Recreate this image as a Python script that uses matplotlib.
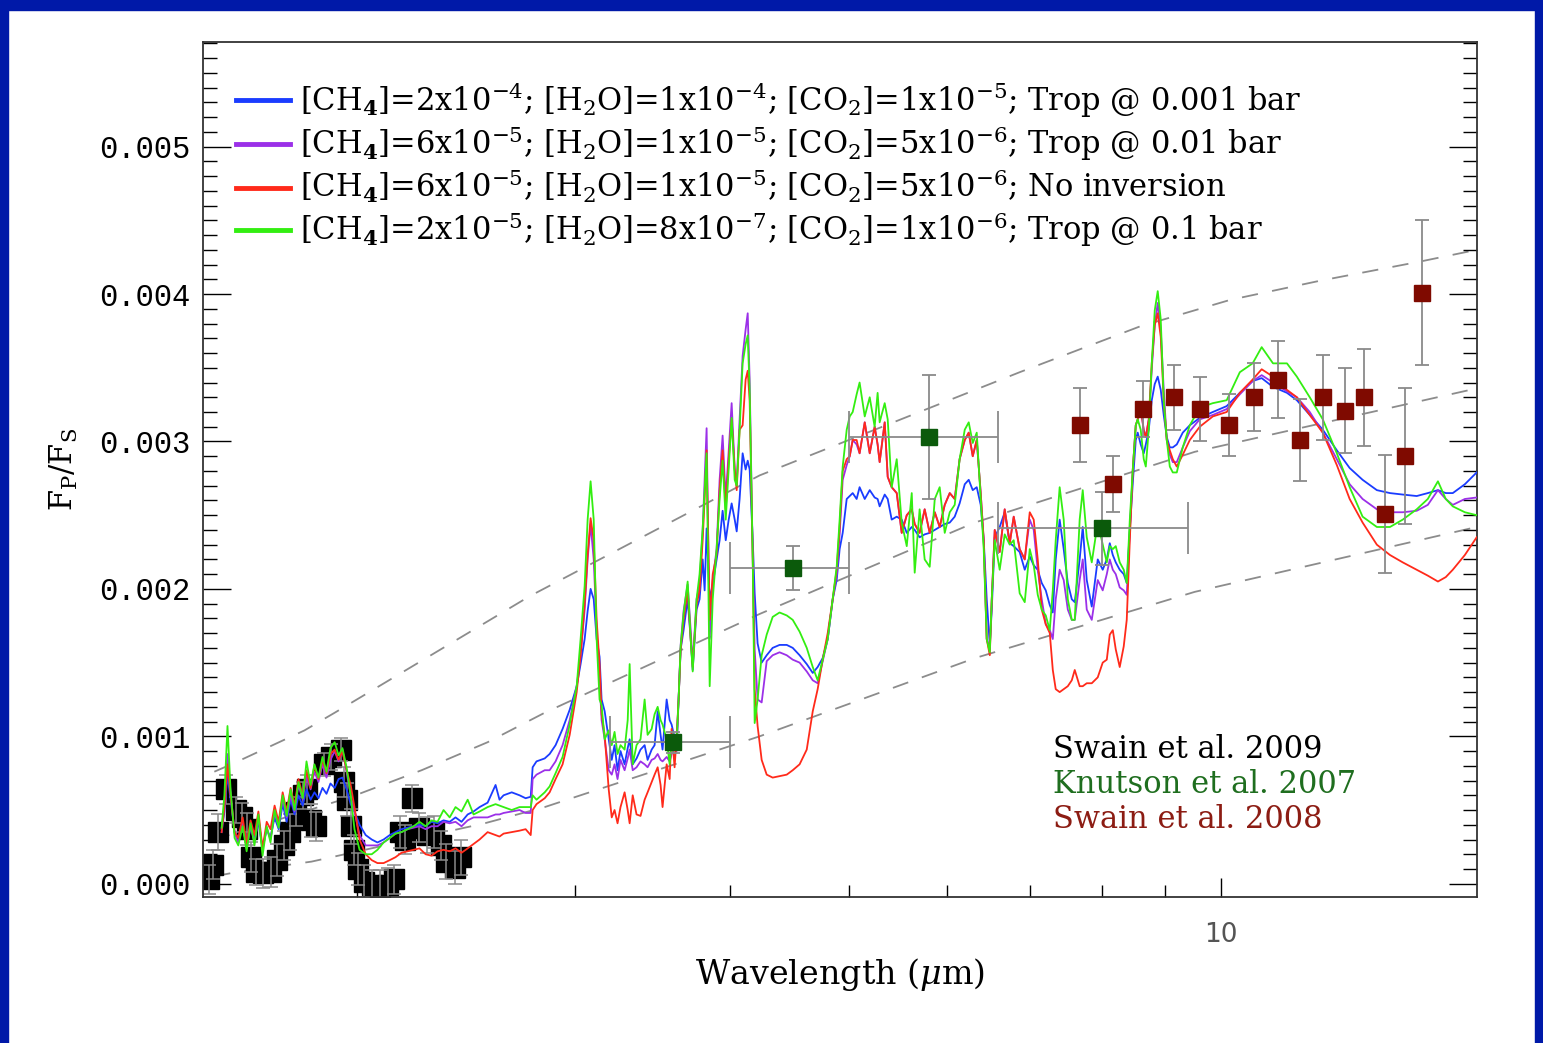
import matplotlib
matplotlib.use("Agg")

import matplotlib.pyplot as plt
from matplotlib.patches import Rectangle
from matplotlib.ticker import FixedLocator, FuncFormatter, NullFormatter
import numpy as np

plt.rcParams['font.family'] = ['DejaVu Serif']
plt.rcParams['mathtext.fontset'] = 'dejavuserif'

FRAME_BLUE = "#0019a8"
C_BLUE = "#1a3cff"
C_VIOLET = "#9b30e8"
C_RED = "#ff2a1a"
C_GREEN = "#33ee11"
C_KNUTSON = "#0b5a0b"
C_SWAIN08 = "#7f0a00"
C_ERR = "#8a8a8a"
SCALE = 1e-3   # flux ratios below are in units of 1e-3

# ---- model spectra (common wavelength grid, micron) ----
wl = [1.553, 1.561, 1.570, 1.579, 1.591, 1.602, 1.615, 1.627, 1.639, 1.651,
      1.663, 1.676, 1.689, 1.701, 1.714, 1.727, 1.740, 1.753, 1.766, 1.779,
      1.792, 1.806, 1.819, 1.833, 1.846, 1.860, 1.874, 1.888, 1.902, 1.917,
      1.931, 1.945, 1.960, 1.975, 1.989, 2.008, 2.031, 2.054, 2.076, 2.100,
      2.124, 2.147, 2.171, 2.196, 2.221, 2.245, 2.271, 2.296, 2.322, 2.348,
      2.375, 2.401, 2.428, 2.456, 2.483, 2.511, 2.549, 2.587, 2.606, 2.626,
      2.666, 2.705, 2.736, 2.762, 2.772, 2.792, 2.835, 2.861, 2.893, 2.931,
      2.970, 3.009, 3.031, 3.054, 3.071, 3.088, 3.106, 3.123, 3.140, 3.152,
      3.170, 3.194, 3.212, 3.229, 3.247, 3.265, 3.290, 3.309, 3.321, 3.340,
      3.364, 3.389, 3.415, 3.434, 3.460, 3.479, 3.499, 3.518, 3.531, 3.558,
      3.578, 3.591, 3.611, 3.625, 3.638, 3.652, 3.672, 3.700, 3.721, 3.735,
      3.762, 3.783, 3.805, 3.819, 3.833, 3.855, 3.877, 3.905, 3.927, 3.949,
      3.972, 3.994, 4.016, 4.039, 4.054, 4.076, 4.099, 4.122, 4.138, 4.153,
      4.177, 4.192, 4.215, 4.247, 4.287, 4.335, 4.391, 4.450, 4.500, 4.558,
      4.619, 4.671, 4.714, 4.758, 4.803, 4.848, 4.884, 4.911, 4.939, 4.976,
      5.004, 5.032, 5.069, 5.097, 5.146, 5.194, 5.242, 5.271, 5.291, 5.341,
      5.371, 5.411, 5.462, 5.513, 5.565, 5.617, 5.648, 5.700, 5.754, 5.808,
      5.863, 5.917, 5.973, 6.029, 6.085, 6.141, 6.200, 6.246, 6.293, 6.340,
      6.387, 6.423, 6.459, 6.496, 6.520, 6.556, 6.617, 6.679, 6.742, 6.792,
      6.868, 6.933, 6.998, 7.050, 7.103, 7.156, 7.210, 7.264, 7.305, 7.345,
      7.399, 7.455, 7.512, 7.568, 7.610, 7.680, 7.724, 7.782, 7.855, 7.943,
      8.017, 8.078, 8.123, 8.169, 8.214, 8.275, 8.337, 8.384, 8.432, 8.479,
      8.526, 8.557, 8.605, 8.654, 8.687, 8.735, 8.784, 8.833, 8.882, 8.932,
      8.982, 9.033, 9.084, 9.135, 9.203, 9.306, 9.429, 9.605, 9.842, 10.10,
      10.35, 10.60, 10.78, 11.01, 11.30, 11.51, 11.79, 12.08, 12.40, 12.70,
      13.01, 13.36, 13.69, 14.02, 14.39, 14.69, 14.97, 15.19, 15.39, 15.74,
      16.09]

trop_0001 = [0.35, 0.49, 0.74, 0.57, 0.35, 0.31, 0.39, 0.26, 0.38, 0.30,
             0.42, 0.24, 0.37, 0.31, 0.45, 0.37, 0.54, 0.42, 0.57, 0.47,
             0.60, 0.53, 0.64, 0.57, 0.62, 0.58, 0.65, 0.61, 0.68, 0.65,
             0.71, 0.72, 0.64, 0.54, 0.49, 0.40, 0.33, 0.30, 0.28, 0.30,
             0.33, 0.35, 0.37, 0.38, 0.39, 0.40, 0.39, 0.42, 0.41, 0.43,
             0.42, 0.45, 0.42, 0.47, 0.49, 0.52, 0.55, 0.67, 0.57, 0.60,
             0.62, 0.60, 0.58, 0.59, 0.79, 0.83, 0.85, 0.88, 0.94, 1.05,
             1.18, 1.34, 1.49, 1.66, 1.85, 2.00, 1.93, 1.66, 1.54, 1.25,
             1.17, 0.98, 0.84, 0.94, 0.77, 0.90, 0.81, 0.92, 0.98, 0.81,
             0.85, 0.91, 0.94, 0.84, 0.91, 0.94, 1.17, 1.01, 0.91, 1.25,
             1.11, 1.08, 0.99, 0.96, 1.25, 1.59, 1.72, 1.93, 1.66, 1.45,
             1.86, 1.93, 2.20, 1.99, 2.41, 1.93, 2.03, 2.20, 2.33, 2.53,
             2.33, 2.47, 2.58, 2.47, 2.39, 2.61, 2.92, 2.81, 2.87, 2.81,
             2.33, 1.97, 1.63, 1.50, 1.55, 1.60, 1.62, 1.62, 1.60, 1.55,
             1.49, 1.43, 1.47, 1.53, 1.66, 1.93, 2.06, 2.27, 2.38, 2.61,
             2.63, 2.65, 2.61, 2.69, 2.61, 2.67, 2.62, 2.61, 2.56, 2.64,
             2.61, 2.47, 2.49, 2.47, 2.38, 2.42, 2.40, 2.35, 2.37, 2.38,
             2.40, 2.42, 2.44, 2.45, 2.49, 2.58, 2.71, 2.74, 2.67, 2.69,
             2.57, 2.33, 1.93, 1.62, 1.86, 2.35, 2.42, 2.52, 2.31, 2.29,
             2.25, 2.13, 2.22, 2.16, 2.13, 2.04, 1.99, 1.89, 1.84, 2.20,
             2.47, 2.27, 2.04, 1.93, 1.91, 2.20, 2.42, 2.06, 1.88, 2.20,
             2.13, 2.20, 2.31, 2.23, 2.18, 2.13, 2.10, 2.04, 2.40, 2.72,
             3.01, 3.06, 2.98, 2.92, 2.98, 3.08, 3.28, 3.39, 3.44, 3.35,
             3.18, 3.03, 2.96, 2.96, 2.98, 3.06, 3.11, 3.16, 3.20, 3.24,
             3.33, 3.41, 3.43, 3.37, 3.33, 3.28, 3.18, 3.08, 2.94, 2.82,
             2.74, 2.67, 2.65, 2.64, 2.63, 2.65, 2.67, 2.65, 2.65, 2.71,
             2.79]

trop_001 = [0.37, 0.54, 0.88, 0.62, 0.34, 0.28, 0.41, 0.24, 0.39, 0.28,
            0.45, 0.23, 0.38, 0.30, 0.49, 0.39, 0.58, 0.45, 0.60, 0.49,
            0.67, 0.57, 0.73, 0.64, 0.76, 0.69, 0.81, 0.72, 0.84, 0.90,
            0.83, 0.91, 0.76, 0.60, 0.49, 0.33, 0.26, 0.26, 0.26, 0.28,
            0.31, 0.34, 0.35, 0.37, 0.38, 0.39, 0.37, 0.39, 0.39, 0.42,
            0.41, 0.42, 0.39, 0.43, 0.45, 0.45, 0.45, 0.47, 0.47, 0.48,
            0.49, 0.50, 0.48, 0.48, 0.71, 0.74, 0.77, 0.77, 0.83, 0.94,
            1.11, 1.34, 1.55, 1.86, 2.20, 2.44, 2.20, 1.72, 1.38, 1.11,
            0.98, 0.77, 0.74, 0.81, 0.71, 0.84, 0.77, 0.85, 0.91, 0.77,
            0.79, 0.83, 0.81, 0.79, 0.84, 0.85, 0.88, 0.84, 0.83, 0.86,
            0.83, 0.88, 0.91, 0.90, 1.25, 1.62, 1.85, 2.03, 1.72, 1.49,
            1.93, 2.03, 2.40, 2.74, 3.09, 1.66, 2.06, 2.27, 2.74, 3.04,
            2.61, 2.94, 3.26, 2.81, 2.72, 3.15, 3.58, 3.76, 3.87, 3.42,
            2.20, 1.59, 1.25, 1.23, 1.51, 1.55, 1.57, 1.55, 1.52, 1.50,
            1.44, 1.38, 1.36, 1.51, 1.66, 1.93, 2.10, 2.37, 2.74, 2.84,
            2.90, 3.01, 2.98, 2.92, 3.13, 2.92, 3.10, 2.98, 2.86, 3.13,
            2.76, 2.69, 2.65, 2.38, 2.50, 2.54, 2.44, 2.38, 2.54, 2.38,
            2.52, 2.42, 2.57, 2.65, 2.61, 2.88, 3.01, 3.06, 2.90, 3.01,
            2.65, 2.33, 1.66, 1.59, 1.93, 2.40, 2.25, 2.54, 2.31, 2.49,
            2.27, 2.20, 2.47, 2.40, 2.13, 1.93, 1.76, 1.72, 1.66, 1.93,
            2.13, 2.06, 1.86, 1.79, 1.79, 2.06, 2.20, 1.86, 1.79, 2.06,
            1.99, 2.10, 2.20, 2.13, 2.10, 2.01, 1.99, 1.96, 2.40, 2.81,
            3.11, 3.15, 3.22, 3.08, 3.03, 3.15, 3.49, 3.79, 3.94, 3.76,
            3.35, 3.01, 2.91, 2.86, 2.86, 2.96, 3.07, 3.15, 3.18, 3.22,
            3.32, 3.41, 3.45, 3.40, 3.34, 3.30, 3.20, 3.06, 2.88, 2.71,
            2.61, 2.54, 2.52, 2.52, 2.53, 2.57, 2.67, 2.61, 2.57, 2.61,
            2.62]

no_inversion = [0.35, 0.52, 0.81, 0.60, 0.35, 0.31, 0.45, 0.27, 0.43, 0.33,
                0.49, 0.24, 0.42, 0.37, 0.53, 0.42, 0.62, 0.49, 0.65, 0.53,
                0.71, 0.60, 0.77, 0.65, 0.80, 0.71, 0.84, 0.75, 0.88, 0.91,
                0.84, 0.90, 0.77, 0.67, 0.52, 0.30, 0.20, 0.16, 0.14, 0.14,
                0.16, 0.18, 0.21, 0.22, 0.23, 0.24, 0.20, 0.19, 0.22, 0.23,
                0.22, 0.24, 0.21, 0.24, 0.27, 0.30, 0.35, 0.33, 0.32, 0.34,
                0.35, 0.36, 0.37, 0.33, 0.50, 0.54, 0.58, 0.62, 0.71, 0.81,
                1.01, 1.30, 1.55, 1.90, 2.23, 2.48, 2.33, 1.79, 1.49, 1.15,
                1.01, 0.64, 0.45, 0.50, 0.41, 0.52, 0.62, 0.50, 0.41, 0.60,
                0.47, 0.46, 0.57, 0.62, 0.69, 0.74, 0.79, 0.67, 0.52, 0.81,
                0.71, 1.05, 0.79, 1.00, 1.25, 1.59, 1.79, 1.99, 1.66, 1.47,
                1.89, 1.99, 2.33, 2.61, 2.94, 1.79, 2.10, 2.23, 2.67, 2.94,
                2.54, 2.88, 3.15, 2.81, 2.67, 3.08, 3.11, 3.42, 3.48, 3.28,
                2.20, 1.32, 1.07, 0.84, 0.74, 0.72, 0.73, 0.74, 0.77, 0.81,
                0.91, 1.17, 1.32, 1.52, 1.70, 1.93, 2.13, 2.42, 2.80, 2.88,
                2.90, 3.01, 3.01, 2.92, 3.13, 2.92, 3.10, 2.98, 2.86, 3.13,
                2.76, 2.69, 2.65, 2.38, 2.50, 2.54, 2.44, 2.38, 2.54, 2.38,
                2.52, 2.42, 2.57, 2.65, 2.61, 2.88, 3.01, 3.06, 2.90, 3.01,
                2.65, 2.33, 1.66, 1.55, 1.93, 2.40, 2.25, 2.54, 2.31, 2.49,
                2.27, 2.20, 2.52, 2.47, 2.20, 1.86, 1.76, 1.70, 1.45, 1.32,
                1.30, 1.32, 1.34, 1.38, 1.45, 1.34, 1.34, 1.36, 1.36, 1.40,
                1.50, 1.52, 1.69, 1.72, 1.59, 1.47, 1.61, 1.79, 2.33, 2.81,
                3.11, 3.15, 3.24, 3.07, 3.03, 3.15, 3.53, 3.79, 3.87, 3.71,
                3.28, 3.01, 2.94, 2.88, 2.83, 2.91, 3.01, 3.10, 3.17, 3.20,
                3.33, 3.42, 3.49, 3.44, 3.35, 3.30, 3.18, 3.06, 2.84, 2.61,
                2.45, 2.30, 2.23, 2.18, 2.13, 2.09, 2.05, 2.08, 2.13, 2.23,
                2.35]

trop_01 = [0.38, 0.60, 1.07, 0.64, 0.31, 0.26, 0.39, 0.22, 0.41, 0.26,
           0.47, 0.19, 0.39, 0.28, 0.50, 0.38, 0.60, 0.46, 0.64, 0.50,
           0.69, 0.58, 0.83, 0.67, 0.81, 0.72, 0.86, 0.76, 0.92, 0.96,
           0.87, 0.92, 0.79, 0.60, 0.37, 0.23, 0.20, 0.20, 0.23, 0.28,
           0.31, 0.34, 0.35, 0.37, 0.39, 0.42, 0.39, 0.43, 0.42, 0.50,
           0.45, 0.52, 0.49, 0.57, 0.47, 0.49, 0.52, 0.54, 0.53, 0.52,
           0.50, 0.52, 0.52, 0.52, 0.60, 0.57, 0.62, 0.66, 0.75, 0.86,
           1.08, 1.34, 1.66, 2.02, 2.47, 2.73, 2.47, 1.66, 1.25, 1.21,
           0.98, 1.04, 0.94, 1.03, 0.88, 0.94, 0.91, 1.11, 1.49, 0.81,
           0.94, 0.98, 1.25, 1.01, 1.05, 1.15, 1.20, 1.11, 1.08, 0.98,
           0.81, 0.98, 0.94, 0.96, 1.25, 1.61, 1.83, 2.05, 1.66, 1.44,
           1.93, 2.10, 2.41, 2.67, 2.92, 1.34, 1.93, 2.27, 2.61, 2.87,
           2.47, 2.81, 3.16, 2.74, 2.70, 3.08, 3.53, 3.66, 3.72, 3.35,
           2.20, 1.09, 1.25, 1.55, 1.69, 1.81, 1.84, 1.82, 1.79, 1.71,
           1.60, 1.47, 1.38, 1.52, 1.66, 1.93, 2.15, 2.47, 2.83, 3.08,
           3.17, 3.20, 3.32, 3.40, 3.17, 3.30, 3.10, 3.33, 3.13, 3.26,
           3.15, 2.69, 2.88, 2.45, 2.29, 2.65, 2.11, 2.54, 2.20, 2.15,
           2.61, 2.69, 2.38, 2.52, 2.57, 2.88, 3.08, 3.13, 2.99, 3.06,
           2.61, 2.27, 1.66, 1.57, 1.93, 2.33, 2.13, 2.37, 2.30, 2.33,
           1.97, 1.91, 2.27, 2.16, 1.96, 1.86, 1.82, 1.72, 1.99, 2.33,
           2.69, 2.47, 1.93, 1.79, 1.79, 2.47, 2.67, 2.35, 2.18, 2.45,
           2.30, 2.18, 2.29, 2.27, 2.29, 2.18, 2.13, 2.04, 2.47, 2.81,
           3.11, 3.15, 3.08, 2.88, 2.83, 3.08, 3.53, 3.89, 4.02, 3.83,
           3.28, 3.01, 2.83, 2.79, 2.79, 2.96, 3.11, 3.23, 3.26, 3.28,
           3.47, 3.53, 3.64, 3.53, 3.53, 3.44, 3.30, 3.15, 2.92, 2.69,
           2.49, 2.42, 2.42, 2.47, 2.54, 2.61, 2.73, 2.61, 2.56, 2.52,
           2.50]

# ---- blackbody reference curves (dashed) ----
bb_hot_wl = [1.532, 1.591, 1.812, 1.917, 2.756, 4.231, 6.868, 8.589, 10.16, 12.01, 14.47, 16.09]
bb_hot_fr = [0.76, 0.82, 1.04, 1.16, 1.95, 2.77, 3.47, 3.78, 3.96, 4.09, 4.22, 4.30]
bb_mid_wl = [1.532, 1.561, 1.978, 2.254, 2.549, 2.835, 4.231, 6.316, 9.517, 16.09]
bb_mid_fr = [0.29, 0.32, 0.59, 0.77, 0.96, 1.16, 1.83, 2.45, 2.93, 3.36]
bb_cool_wl = [1.532, 1.599, 1.836, 2.535, 2.835, 4.231, 6.316, 9.517, 16.09]
bb_cool_fr = [0.05, 0.08, 0.15, 0.41, 0.52, 1.00, 1.53, 1.98, 2.42]

# ---- Swain et al. 2009 (NICMOS) ----
sw09_wl = [1.516, 1.528, 1.543, 1.567, 1.594, 1.612, 1.627, 1.639, 1.657, 1.676,
           1.701, 1.723, 1.743, 1.763, 1.785, 1.806, 1.822, 1.836, 1.853, 1.878,
           1.903, 1.938, 1.952, 1.963, 1.975, 1.986, 2.004, 2.023, 2.054, 2.084,
           2.116, 2.143, 2.167, 2.184, 2.216, 2.245, 2.275, 2.305, 2.335, 2.357,
           2.397, 2.424]
sw09_fr = [0.03, 0.13, 0.35, 0.64, 0.50, 0.45, 0.37, 0.18, 0.08, 0.07,
           0.08, 0.16, 0.26, 0.35, 0.49, 0.60, 0.64, 0.43, 0.39, 0.81,
           0.86, 0.91, 0.69, 0.57, 0.39, 0.23, 0.10, 0.01, -0.01, -0.02,
           -0.01, 0.03, 0.35, 0.30, 0.58, 0.38, 0.33, 0.35, 0.26, 0.15,
           0.11, 0.18]
sw09_err = [0.10, 0.10, 0.12, 0.10, 0.09, 0.10, 0.11, 0.10, 0.09, 0.10,
            0.10, 0.11, 0.10, 0.12, 0.10, 0.09, 0.10, 0.11, 0.10, 0.08,
            0.09, 0.08, 0.10, 0.11, 0.12, 0.10, 0.11, 0.12, 0.10, 0.11,
            0.12, 0.10, 0.11, 0.10, 0.09, 0.10, 0.12, 0.11, 0.10, 0.12,
            0.11, 0.12]

# ---- Knutson et al. 2007 (IRAC) ----
kn_wl = [3.6, 4.5, 5.8, 8.0]
kn_fr = [0.96, 2.14, 3.03, 2.41]
kn_err = [0.07, 0.15, 0.42, 0.25]
kn_wl_lo = [0.4, 0.5, 0.8, 1.4]
kn_wl_hi = [0.4, 0.5, 0.8, 1.4]

# ---- Swain et al. 2008 (IRS) ----
sw08_wl = [7.68, 8.17, 8.64, 9.15, 9.61, 10.14, 10.62, 11.11, 11.57, 12.08,
           12.59, 13.04, 13.56, 14.07, 14.53]
sw08_fr = [3.11, 2.71, 3.22, 3.30, 3.22, 3.11, 3.30, 3.42, 3.01, 3.30,
           3.21, 3.30, 2.51, 2.90, 4.01]
sw08_err = [0.25, 0.19, 0.19, 0.22, 0.22, 0.21, 0.23, 0.26, 0.28, 0.29,
            0.29, 0.33, 0.40, 0.46, 0.49]

labels = [
    "[CH$_\\mathbf{4}$]=2x10$^{-4}$; [H$_2$O]=1x10$^{-4}$; [CO$_2$]=1x10$^{-5}$; Trop @ 0.001 bar",
    "[CH$_\\mathbf{4}$]=6x10$^{-5}$; [H$_2$O]=1x10$^{-5}$; [CO$_2$]=5x10$^{-6}$; Trop @ 0.01 bar",
    "[CH$_\\mathbf{4}$]=6x10$^{-5}$; [H$_2$O]=1x10$^{-5}$; [CO$_2$]=5x10$^{-6}$; No inversion",
    "[CH$_\\mathbf{4}$]=2x10$^{-5}$; [H$_2$O]=8x10$^{-7}$; [CO$_2$]=1x10$^{-6}$; Trop @ 0.1 bar",
]


def main():
    fig = plt.figure(figsize=(15.43, 10.43), dpi=100, facecolor="white")

    # blue slide frame
    fig.patches.append(Rectangle((0, 1 - 10 / 1043), 1, 10 / 1043,
                                 transform=fig.transFigure, color=FRAME_BLUE, zorder=0))
    fig.patches.append(Rectangle((0, 0), 8 / 1543, 1,
                                 transform=fig.transFigure, color=FRAME_BLUE, zorder=0))
    fig.patches.append(Rectangle((1 - 8 / 1543, 0), 8 / 1543, 1,
                                 transform=fig.transFigure, color=FRAME_BLUE, zorder=0))

    ax = fig.add_axes([203 / 1543, 1 - 897 / 1043, 1274 / 1543, 855 / 1043])
    ax.set_xscale("log")

    # blackbody references
    for bw, bf in [(bb_hot_wl, bb_hot_fr), (bb_mid_wl, bb_mid_fr), (bb_cool_wl, bb_cool_fr)]:
        ax.plot(bw, np.array(bf) * SCALE, color="#8c8c8c", lw=1.3,
                dashes=(9, 8), zorder=1)

    # NICMOS points: squares under their error bars
    ax.plot(sw09_wl, np.array(sw09_fr) * SCALE, "s", color="black", ms=14, zorder=2)
    ax.errorbar(sw09_wl, np.array(sw09_fr) * SCALE, yerr=np.array(sw09_err) * SCALE,
                fmt="none", ecolor=C_ERR, elinewidth=1.1, capsize=5, capthick=1.1,
                zorder=2.5)

    # model spectra
    for vals, col, lab in [(trop_0001, C_BLUE, labels[0]), (trop_001, C_VIOLET, labels[1]),
                           (no_inversion, C_RED, labels[2]), (trop_01, C_GREEN, labels[3])]:
        ax.plot(wl, np.array(vals) * SCALE, color=col, lw=1.3, label=lab, zorder=3)

    # IRAC photometry
    kfr = np.array(kn_fr) * SCALE
    ax.errorbar(kn_wl, kfr, xerr=[kn_wl_lo, kn_wl_hi], fmt="none", ecolor=C_ERR,
                elinewidth=1.3, capsize=19, capthick=1.3, zorder=4)
    ax.errorbar(kn_wl, kfr, yerr=np.array(kn_err) * SCALE, fmt="none", ecolor=C_ERR,
                elinewidth=1.3, capsize=5, capthick=1.3, zorder=4)
    ax.plot(kn_wl, kfr, "s", color=C_KNUTSON, ms=12, zorder=5)

    # IRS spectrum
    ax.errorbar(sw08_wl, np.array(sw08_fr) * SCALE, yerr=np.array(sw08_err) * SCALE,
                fmt="s", color=C_SWAIN08, ms=12, ecolor=C_ERR, elinewidth=1.3,
                capsize=5, capthick=1.3, zorder=5)

    ax.set_xlim(1.5, 16.1)
    ax.set_ylim(-0.00009, 0.00571)

    ax.xaxis.set_major_locator(FixedLocator([10]))
    ax.xaxis.set_minor_locator(FixedLocator([2, 3, 4, 5, 6, 7, 8, 9]))
    ax.xaxis.set_major_formatter(FuncFormatter(lambda v, p: "%d" % v))
    ax.xaxis.set_minor_formatter(NullFormatter())
    ax.yaxis.set_major_locator(FixedLocator(np.arange(0, 0.0055, 0.001)))
    ax.yaxis.set_minor_locator(FixedLocator(np.arange(0, 0.00575, 0.0001)))
    ax.yaxis.set_major_formatter(FuncFormatter(lambda v, p: "%.3f" % v))

    ax.tick_params(axis="y", which="both", direction="in", left=True, right=True,
                   width=1.0, labelsize=22, pad=9)
    ax.tick_params(axis="y", which="major", length=20)
    ax.tick_params(axis="y", which="minor", length=10)
    ax.tick_params(axis="x", which="both", direction="in", top=False, bottom=True,
                   width=1.0, labelsize=19, labelcolor="#555555", pad=18)
    ax.tick_params(axis="x", which="major", length=14)
    ax.tick_params(axis="x", which="minor", length=9)
    for lbl in ax.get_xticklabels():
        lbl.set_fontfamily("DejaVu Sans")
    for lbl in ax.get_yticklabels():
        lbl.set_fontfamily("Liberation Mono")

    for sp in ax.spines.values():
        sp.set_color("#333333")
        sp.set_linewidth(1.3)

    ax.set_xlabel("Wavelength ($\\mu$m)", fontsize=24, labelpad=6)
    ax.set_ylabel("F$_\\mathrm{P}$/F$_\\mathrm{S}$", fontsize=22, labelpad=14)

    leg = ax.legend(loc="upper left", bbox_to_anchor=(0.0165, 0.970), frameon=False,
                    fontsize=22, handlelength=1.75, handletextpad=0.33,
                    labelspacing=0.16, borderaxespad=0.0)
    for h in leg.get_lines():
        h.set_linewidth(3.5)

    ax.text(0.667, 0.172, "Swain et al. 2009", transform=ax.transAxes,
            fontsize=22, color="black", va="center")
    ax.text(0.667, 0.131, "Knutson et al. 2007", transform=ax.transAxes,
            fontsize=22, color="#1f6e1f", va="center")
    ax.text(0.667, 0.091, "Swain et al. 2008", transform=ax.transAxes,
            fontsize=22, color="#8c1c13", va="center")

    fig.savefig("out.png", dpi=100, facecolor="white")
    plt.close(fig)


if __name__ == "__main__":
    main()
